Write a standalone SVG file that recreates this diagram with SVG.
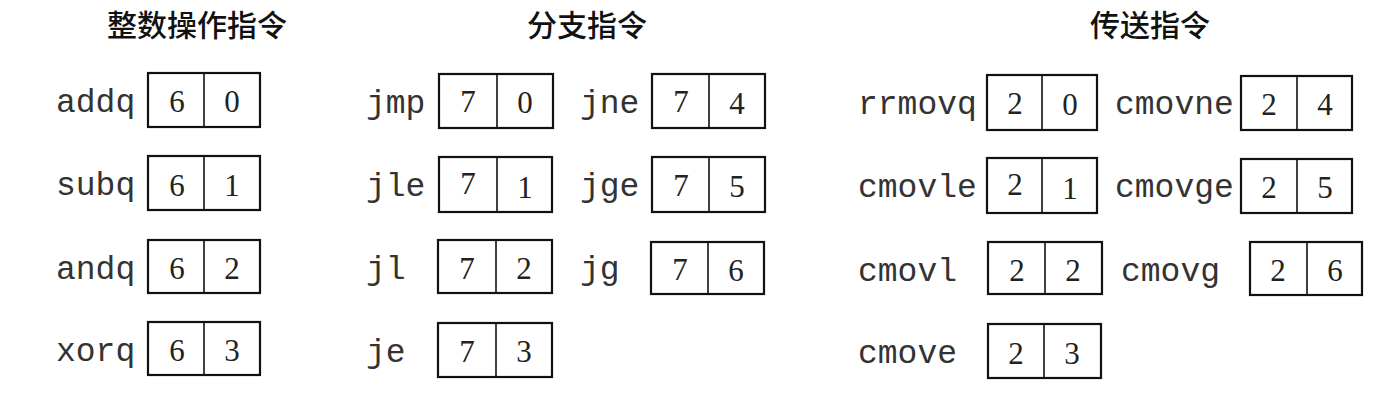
<svg xmlns="http://www.w3.org/2000/svg" width="1386" height="402" viewBox="0 0 1386 402">
<style>
.t{font-family:"Noto Sans CJK SC","Noto Sans",sans-serif;font-size:30px;font-weight:500;fill:#111;text-anchor:middle}
.m{font-family:"Liberation Mono","DejaVu Sans Mono",monospace;font-size:33px;fill:#333}
.d{font-family:"Liberation Serif","Times New Roman",serif;font-size:31px;fill:#222;text-anchor:middle}
.b{fill:#fff;stroke:#111;stroke-width:2.2}
.v{stroke:#111;stroke-width:1.6}
</style>
<rect width="1386" height="402" fill="#fff"/>
<g id="titles">
<text class="t" x="197" y="36">整数操作指令</text>
<text class="t" x="587" y="36">分支指令</text>
<text class="t" x="1150" y="36">传送指令</text>
</g>
<g id="addq"><text class="m" x="56" y="112">addq</text><rect class="b" x="148" y="73" width="112" height="54"/><line class="v" x1="204" y1="73" x2="204" y2="127"/><text class="d" x="177" y="112">6</text><text class="d" x="232" y="112">0</text></g>
<g id="subq"><text class="m" x="56" y="195">subq</text><rect class="b" x="148" y="156" width="112" height="54"/><line class="v" x1="204" y1="156" x2="204" y2="210"/><text class="d" x="177" y="196">6</text><text class="d" x="232" y="196">1</text></g>
<g id="andq"><text class="m" x="56" y="279">andq</text><rect class="b" x="148" y="240" width="112" height="53"/><line class="v" x1="204" y1="240" x2="204" y2="293"/><text class="d" x="177" y="279">6</text><text class="d" x="232" y="279">2</text></g>
<g id="xorq"><text class="m" x="56" y="361">xorq</text><rect class="b" x="148" y="322" width="112" height="53"/><line class="v" x1="204" y1="322" x2="204" y2="375"/><text class="d" x="177" y="361">6</text><text class="d" x="232" y="361">3</text></g>

<g id="jmp"><text class="m" x="366" y="113">jmp</text><rect class="b" x="439" y="74" width="114" height="54"/><line class="v" x1="497" y1="74" x2="497" y2="128"/><text class="d" x="468" y="112">7</text><text class="d" x="525" y="113">0</text></g>
<g id="jle"><text class="m" x="366" y="196">jle</text><rect class="b" x="439" y="157" width="113" height="55"/><line class="v" x1="497" y1="157" x2="497" y2="212"/><text class="d" x="468" y="194">7</text><text class="d" x="525" y="198">1</text></g>
<g id="jl"><text class="m" x="366" y="279">jl</text><rect class="b" x="438" y="240" width="114" height="53"/><line class="v" x1="496" y1="240" x2="496" y2="293"/><text class="d" x="467" y="279">7</text><text class="d" x="524" y="279">2</text></g>
<g id="je"><text class="m" x="366" y="362">je</text><rect class="b" x="438" y="323" width="114" height="54"/><line class="v" x1="496" y1="323" x2="496" y2="377"/><text class="d" x="467" y="362">7</text><text class="d" x="524" y="362">3</text></g>

<g id="jne"><text class="m" x="580" y="113">jne</text><rect class="b" x="652" y="74" width="113" height="54"/><line class="v" x1="709" y1="74" x2="709" y2="128"/><text class="d" x="681" y="112">7</text><text class="d" x="737" y="114">4</text></g>
<g id="jge"><text class="m" x="580" y="196">jge</text><rect class="b" x="652" y="157" width="113" height="55"/><line class="v" x1="709" y1="157" x2="709" y2="212"/><text class="d" x="681" y="196">7</text><text class="d" x="737" y="197">5</text></g>
<g id="jg"><text class="m" x="580" y="279">jg</text><rect class="b" x="651" y="242" width="113" height="52"/><line class="v" x1="708" y1="242" x2="708" y2="294"/><text class="d" x="680" y="280">7</text><text class="d" x="736" y="281">6</text></g>

<g id="rrmovq"><text class="m" x="858" y="114">rrmovq</text><rect class="b" x="987" y="75" width="110" height="55"/><line class="v" x1="1042" y1="75" x2="1042" y2="130"/><text class="d" x="1015" y="114">2</text><text class="d" x="1070" y="115">0</text></g>
<g id="cmovle"><text class="m" x="858" y="197">cmovle</text><rect class="b" x="987" y="158" width="110" height="55"/><line class="v" x1="1042" y1="158" x2="1042" y2="213"/><text class="d" x="1015" y="195">2</text><text class="d" x="1070" y="199">1</text></g>
<g id="cmovl"><text class="m" x="858" y="281">cmovl</text><rect class="b" x="988" y="242" width="114" height="52"/><line class="v" x1="1045" y1="242" x2="1045" y2="294"/><text class="d" x="1017" y="281">2</text><text class="d" x="1073" y="281">2</text></g>
<g id="cmove"><text class="m" x="858" y="363">cmove</text><rect class="b" x="988" y="324" width="113" height="54"/><line class="v" x1="1044" y1="324" x2="1044" y2="378"/><text class="d" x="1016" y="364">2</text><text class="d" x="1072" y="364">3</text></g>

<g id="cmovne"><text class="m" x="1115" y="114">cmovne</text><rect class="b" x="1241" y="76" width="111" height="54"/><line class="v" x1="1297" y1="76" x2="1297" y2="130"/><text class="d" x="1269" y="115">2</text><text class="d" x="1325" y="115">4</text></g>
<g id="cmovge"><text class="m" x="1115" y="197">cmovge</text><rect class="b" x="1241" y="159" width="111" height="54"/><line class="v" x1="1297" y1="159" x2="1297" y2="213"/><text class="d" x="1269" y="198">2</text><text class="d" x="1325" y="198">5</text></g>
<g id="cmovg"><text class="m" x="1121" y="281">cmovg</text><rect class="b" x="1250" y="242" width="112" height="53"/><line class="v" x1="1307" y1="242" x2="1307" y2="295"/><text class="d" x="1278" y="281">2</text><text class="d" x="1335" y="281">6</text></g>
<g id="connectors"/>
</svg>
